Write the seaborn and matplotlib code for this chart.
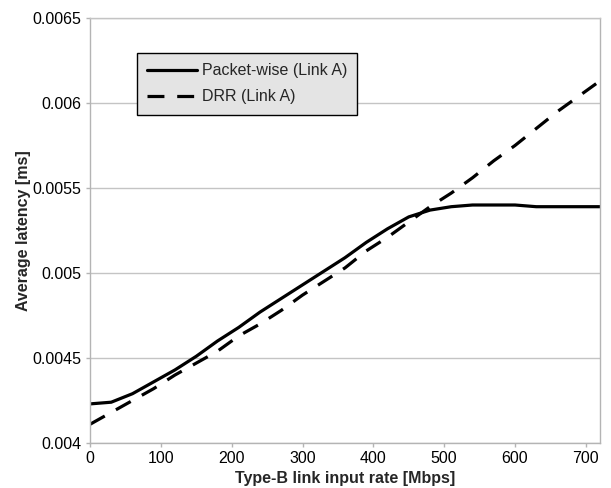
import matplotlib
matplotlib.use("Agg")
import matplotlib.pyplot as plt
import seaborn as sns
import pandas as pd

# Type-B link input rate [Mbps]
rate = [0, 30, 60, 90, 120, 150, 180, 210, 240, 270, 300, 330, 360,
        390, 420, 450, 480, 510, 540, 570, 600, 630, 660, 690, 720]

# Average latency [ms], packet-wise scheduling on link A
packet_wise = [0.00423, 0.00424, 0.00429, 0.00436, 0.00443, 0.00451, 0.00460,
               0.00468, 0.00477, 0.00485, 0.00493, 0.00501, 0.00509, 0.00518,
               0.00526, 0.00533, 0.00537, 0.00539, 0.00540, 0.00540, 0.00540,
               0.00539, 0.00539, 0.00539, 0.00539]

# Average latency [ms], DRR scheduling on link A
drr = [0.00411, 0.00418, 0.00425, 0.00432, 0.00440, 0.00447, 0.00454,
       0.00463, 0.00470, 0.00478, 0.00487, 0.00495, 0.00503, 0.00513,
       0.00521, 0.00530, 0.00539, 0.00547, 0.00556, 0.00566, 0.00575,
       0.00585, 0.00595, 0.00604, 0.00613]

series_names = ["Packet-wise (Link A)", "DRR (Link A)"]
x_ticks = [0, 100, 200, 300, 400, 500, 600, 700]
y_ticks = [0.004, 0.0045, 0.005, 0.0055, 0.006, 0.0065]
y_tick_labels = ["0.004", "0.0045", "0.005", "0.0055", "0.006", "0.0065"]

df = pd.DataFrame({
    "rate": rate * 2,
    "latency": packet_wise + drr,
    "scheme": [series_names[0]] * len(rate) + [series_names[1]] * len(rate),
})

sns.set_theme(style="white")
plt.rcParams["font.family"] = ["Liberation Sans", "DejaVu Sans"]

fig = plt.figure(figsize=(6.11, 4.88), dpi=100)
ax = fig.add_axes([90 / 611, 45 / 488, 510 / 611, 425 / 488])

sns.lineplot(
    data=df, x="rate", y="latency", style="scheme",
    style_order=series_names,
    dashes={series_names[0]: "", series_names[1]: (5.3, 4.0)},
    color="black", linewidth=2.3, ax=ax, legend=True,
)

ax.set_xlim(0, 720)
ax.set_ylim(0.004, 0.0065)
ax.set_xticks(x_ticks)
ax.set_xticklabels([str(t) for t in x_ticks])
ax.set_yticks(y_ticks)
ax.set_yticklabels(y_tick_labels)

ax.grid(axis="y", color="#c4c4c4", linewidth=1.0)
ax.grid(axis="x", visible=False)
ax.set_axisbelow(True)
for side in ["left", "bottom", "right", "top"]:
    ax.spines[side].set_visible(True)
    ax.spines[side].set_color("#b4b4b4")
    ax.spines[side].set_linewidth(1.0)
ax.spines["top"].set_color("#c4c4c4")

ax.tick_params(axis="both", which="major", direction="out", length=3,
               width=1.0, color="#b4b4b4", labelsize=11.5, labelcolor="black",
               pad=3, bottom=True, left=True)

ax.set_xlabel("Type-B link input rate [Mbps]", fontsize=11.5,
              fontweight="bold", labelpad=3)
ax.set_ylabel("Average latency [ms]", fontsize=11.5,
              fontweight="bold", labelpad=1)

leg = ax.legend(
    loc="upper left", bbox_to_anchor=(0.092, 0.918), borderaxespad=0,
    fontsize=11.5, frameon=True, fancybox=False, framealpha=1,
    facecolor="#e4e4e4", edgecolor="black", handlelength=3.1,
    handletextpad=0.3, labelspacing=0.7, borderpad=0.65, title=None,
)
leg.get_frame().set_linewidth(1.0)

fig.savefig("out.png", dpi=100)
